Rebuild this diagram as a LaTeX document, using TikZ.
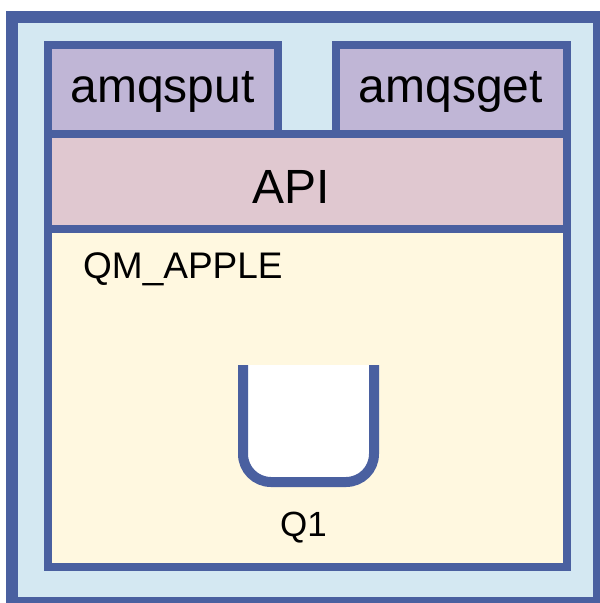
\documentclass[tikz,border=0pt]{standalone}
\usepackage{fontspec}
\setmainfont{Liberation Sans}
\definecolor{edge}{RGB}{74,96,160}
\definecolor{sky}{RGB}{212,232,242}
\definecolor{lilac}{RGB}{192,182,214}
\definecolor{rose}{RGB}{224,200,208}
\definecolor{cream}{RGB}{255,248,224}
\tikzset{
  frame/.style={draw=edge, line width=12pt, fill=sky},
  panel/.style={draw=edge, line width=8pt},
  bigtext/.style={font=\fontsize{48}{48}\selectfont, inner sep=0pt, anchor=base},
  midtext/.style={font=\fontsize{35}{35}\selectfont, inner sep=0pt, anchor=base},
  cup/.style={draw=edge, line width=10pt, fill=white, rounded corners=28pt}
}
\begin{document}
\begin{tikzpicture}[x=1pt, y=-1pt]
  \useasboundingbox (0,0) rectangle (600,603);
  % system frame
  \draw[frame] (12,17) rectangle (599,603);
  % queue manager, API layer and the two applications
  \draw[panel, fill=cream] (47.5,228.5) rectangle (566.5,567);
  \draw[panel, fill=rose] (47.5,133.5) rectangle (566.5,228.5);
  \draw[panel, fill=lilac] (47.5,44.5) rectangle (277.5,133.5);
  \draw[panel, fill=lilac] (335.5,44.5) rectangle (566.5,133.5);
  \node[bigtext] (put) at (162.5,102) {amqsput};
  \node[bigtext] (get) at (451,102) {amqsget};
  \node[bigtext] (api) at (291.5,203) {API};
  \node[midtext, font=\fontsize{37}{37}\selectfont, anchor=base west] (qm) at (83,278) {QM\_APPLE};
  % queue Q1
  \draw[cup] (243,365) -- (243,482) -- (374,482) -- (374,365);
  \node[midtext] (q1) at (303.5,536) {Q1};
\end{tikzpicture}
\end{document}
